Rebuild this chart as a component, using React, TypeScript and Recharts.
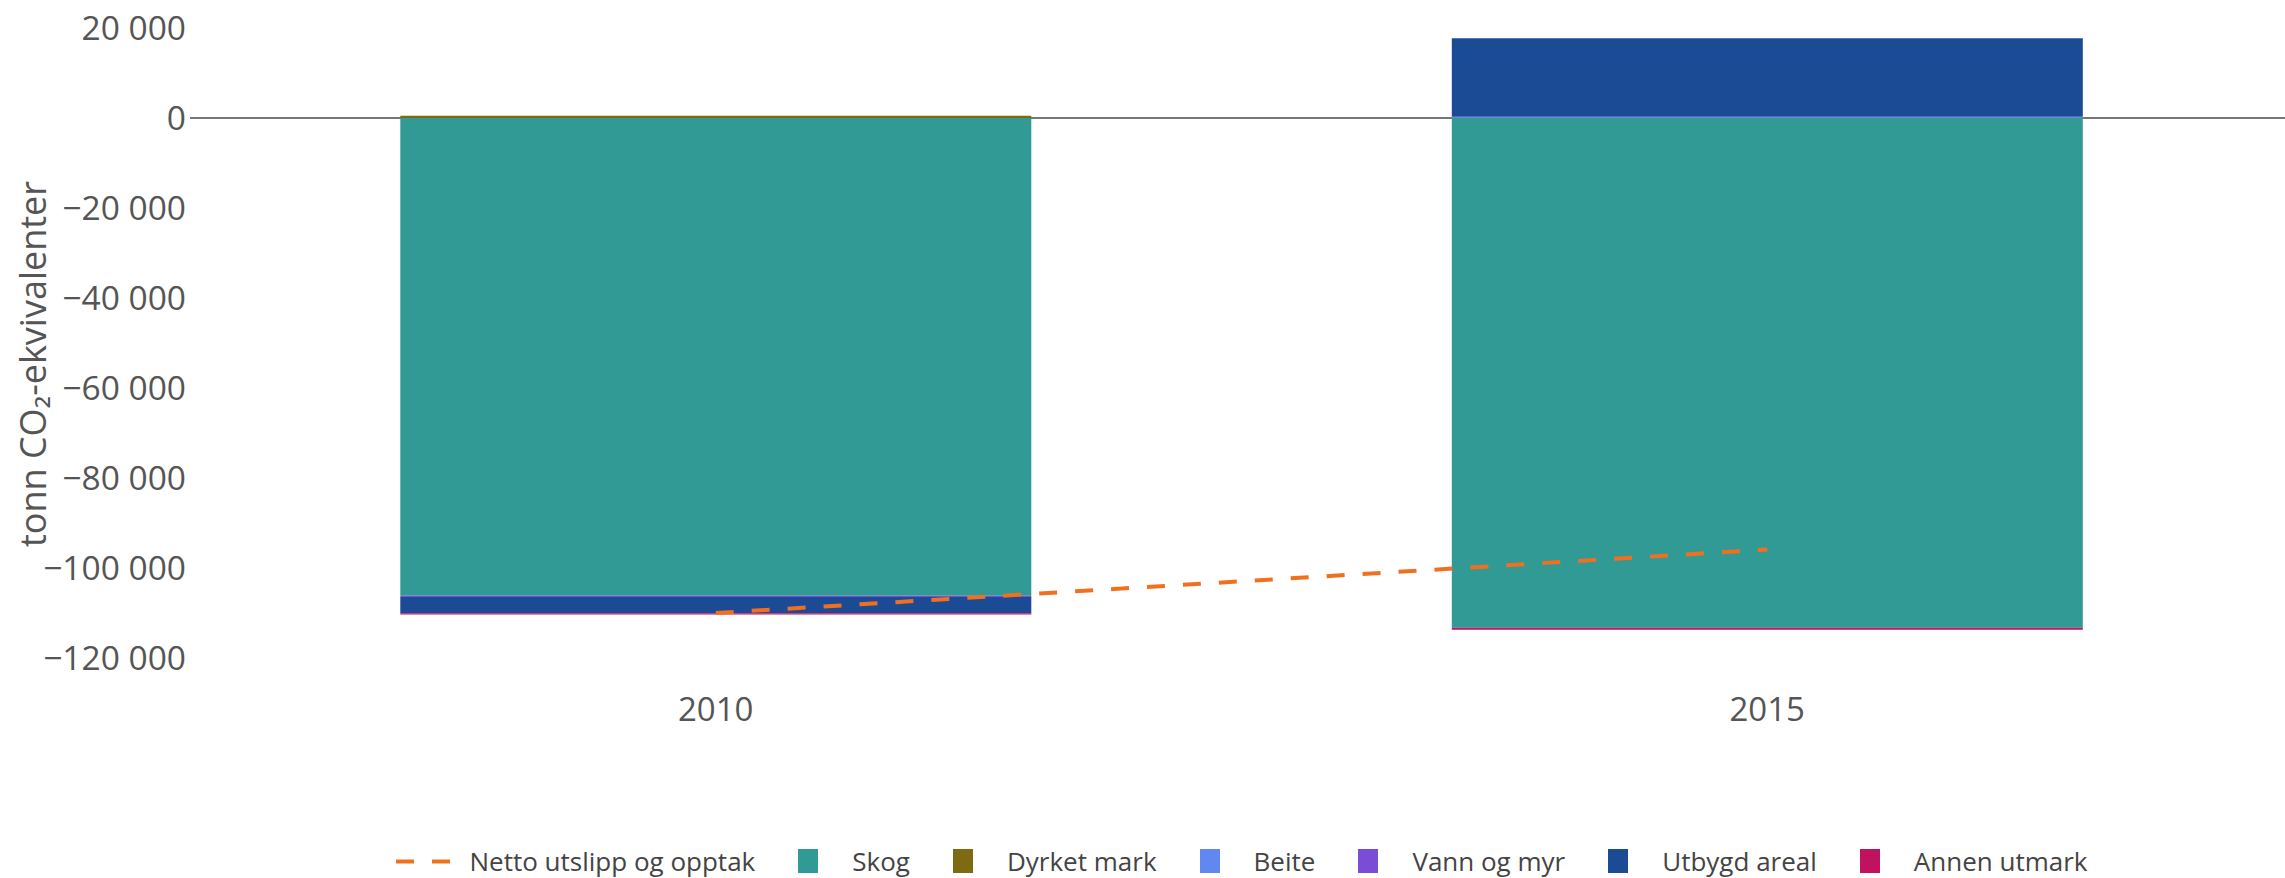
import React from 'react';
import {
  ComposedChart,
  Bar,
  Line,
  XAxis,
  YAxis,
  CartesianGrid,
  Legend,
} from 'recharts';

// Values (tonn CO2-ekvivalenter)
const years = ['2010', '2015'];
const skog = [-106150, -113300];
const dyrketMark = [500, 0];
const beite = [0, 300];
const vannOgMyr = [-300, 0];
const utbygdAreal = [-3600, 17400];
const annenUtmark = [-300, -400];
const netto = [-110000, -95900];

const yTicks = [-120000, -100000, -80000, -60000, -40000, -20000, 0, 20000];

const seriesOrder = [
  'Netto utslipp og opptak',
  'Skog',
  'Dyrket mark',
  'Beite',
  'Vann og myr',
  'Utbygd areal',
  'Annen utmark',
];

const data = years.map((year, i) => ({
  year,
  skog: skog[i],
  dyrketMark: dyrketMark[i],
  beite: beite[i],
  vannOgMyr: vannOgMyr[i],
  utbygdAreal: utbygdAreal[i],
  annenUtmark: annenUtmark[i],
  netto: netto[i],
}));

const FONT = '"Open Sans", sans-serif';

const fmt = (v: number) =>
  (v < 0 ? '\u2212' : '') + Math.abs(v).toString().replace(/\B(?=(\d{3})+(?!\d))/g, ' ');

const YTitle = (props: any) => {
  const vb = props.viewBox;
  const x = vb.x + 32;
  const y = 364;
  return (
    <text
      x={x}
      y={y}
      transform={`rotate(-90, ${x}, ${y})`}
      textAnchor="middle"
      dominantBaseline="central"
      fill="#555"
      fontSize={36}
      fontFamily={FONT}
    >
      tonn CO₂-ekvivalenter
    </text>
  );
};

const LegendContent = (props: any) => {
  const items = [...(props.payload || [])].sort(
    (a: any, b: any) => seriesOrder.indexOf(a.value) - seriesOrder.indexOf(b.value)
  );
  return (
    <div style={{ display: 'flex', justifyContent: 'center', alignItems: 'center', gap: 43, fontFamily: FONT }}>
      {items.map((item: any) => (
        <div key={item.value} style={{ display: 'flex', alignItems: 'center' }}>
          {item.value === seriesOrder[0] ? (
            <svg width={56} height={25} style={{ marginRight: 18 }}>
              <line x1={0} y1={12.5} x2={56} y2={12.5} stroke={item.color} strokeWidth={4} strokeDasharray="18 18" />
            </svg>
          ) : (
            <span
              style={{ display: 'inline-block', width: 20, height: 24, background: item.color, marginRight: 34 }}
            />
          )}
          <span style={{ fontSize: 26, color: '#444' }}>{item.value}</span>
        </div>
      ))}
    </div>
  );
};

export default function App() {
  return (
    <div style={{ position: 'absolute', left: 0, top: 0, width: 2285, height: 878, overflow: 'hidden', background: '#fff' }}>
      <ComposedChart
        width={2293}
        height={878}
        data={data}
        stackOffset="sign"
        barCategoryGap="20%"
        margin={{ top: 5.5, right: 0, left: 0, bottom: 0 }}
      >
        <CartesianGrid vertical={false} horizontalValues={[0]} stroke="#777" strokeWidth={2} />
        <XAxis
          dataKey="year"
          axisLine={false}
          tickLine={false}
          tickSize={0}
          tickMargin={17}
          height={162.5}
          tick={{ fontSize: 33, fill: '#555', fontFamily: FONT }}
        />
        <YAxis
          width={190}
          domain={[-125000, 25000]}
          ticks={yTicks}
          axisLine={false}
          tickLine={false}
          tickSize={0}
          tickMargin={4}
          tickFormatter={fmt}
          tick={{ fontSize: 33.5, fill: '#555', fontFamily: FONT }}
          label={<YTitle />}
        />
        <Legend verticalAlign="bottom" height={35} wrapperStyle={{ left: 190, width: 2103, bottom: 0 }} content={<LegendContent />} />
        <Bar dataKey="skog" name="Skog" stackId="a" fill="#329a94" isAnimationActive={false} />
        <Bar dataKey="dyrketMark" name="Dyrket mark" stackId="a" fill="#7d6a12" isAnimationActive={false} />
        <Bar dataKey="beite" name="Beite" stackId="a" fill="#6088f0" isAnimationActive={false} />
        <Bar dataKey="vannOgMyr" name="Vann og myr" stackId="a" fill="#7b4cd5" isAnimationActive={false} />
        <Bar dataKey="utbygdAreal" name="Utbygd areal" stackId="a" fill="#1b4b95" isAnimationActive={false} />
        <Bar dataKey="annenUtmark" name="Annen utmark" stackId="a" fill="#c0125f" isAnimationActive={false} />
        <Line
          dataKey="netto"
          name="Netto utslipp og opptak"
          type="linear"
          stroke="#f07020"
          strokeWidth={4}
          strokeDasharray="18 18"
          dot={false}
          legendType="plainline"
          isAnimationActive={false}
        />
      </ComposedChart>
    </div>
  );
}
